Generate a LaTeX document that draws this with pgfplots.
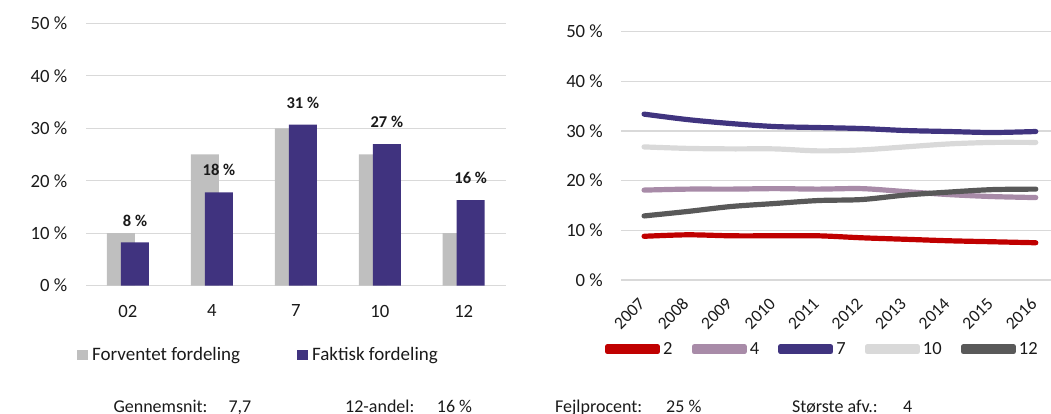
\documentclass[border=0pt]{standalone}
\usepackage{pgfplots}
\pgfplotsset{compat=1.18}
\usepackage{fontspec}
\setmainfont{Carlito}
\definecolor{barGrey}{HTML}{BFBFBF}
\definecolor{barPurple}{HTML}{40337F}
\definecolor{gridGrey}{HTML}{D9D9D9}
\definecolor{cRed}{HTML}{C00000}
\definecolor{cMauve}{HTML}{A88BA8}
\definecolor{cPurple}{HTML}{40347F}
\definecolor{cLight}{HTML}{D9D9D9}
\definecolor{cDark}{HTML}{595959}
\definecolor{txt}{HTML}{1A1A1A}
\newcommand\fsT{\fontsize{18.7pt}{20pt}\selectfont}
\newcommand\fsL{\fontsize{19pt}{21pt}\selectfont}
\newcommand\fsB{\fontsize{18pt}{20pt}\selectfont}
\begin{document}
\begin{tikzpicture}
\path[use as bounding box] (0pt,0pt) rectangle (1051pt,414pt);
% ---------------- left bar chart ----------------
\begin{axis}[
  at={(86pt,128.3pt)}, anchor=south west,
  scale only axis, width=419.7pt, height=262.4pt,
  xmin=-0.5, xmax=4.5, ymin=0, ymax=50,
  ytick={0,10,...,50},
  /pgf/number format/assume math mode=true,
  yticklabel={\pgfmathprintnumber{\tick}~\%},
  xtick={0,...,4}, xticklabels={02,4,7,10,12},
  ymajorgrids, grid style={gridGrey, line width=1.3pt},
  axis line style={draw=none},
  major tick length=0pt,
  tick label style={font=\fsT, text=txt, inner sep=0pt},
  yticklabel style={anchor=east, xshift=-18.5pt},
  xticklabel style={anchor=north, yshift=-19pt},
  ybar, bar width=28pt,
  clip=false,
  legend columns=2,
  legend style={at={(axis description cs:-0.0223,-0.263)}, anchor=west,
    draw=none, fill=none, inner sep=0pt, outer sep=0pt, font=\fsL, text=txt,
    nodes={inner sep=0pt},
    /tikz/every odd column/.append style={column sep=4.5pt},
    /tikz/every even column/.append style={column sep=56.5pt}},
  legend image code/.code={\path[#1, draw=none] (0pt,-5pt) rectangle (11pt,5pt);},
]
\addplot[fill=barGrey, draw=none, bar shift=-7pt] coordinates {(0,10) (1,25) (2,30) (3,25) (4,10)};
\addlegendentry{Forventet fordeling}
\addplot[fill=barPurple, draw=none, bar shift=7pt,
  nodes near coords, point meta=explicit symbolic,
  every node near coord/.append style={font=\bfseries\fontsize{16.5pt}{18pt}\selectfont, text=txt, inner sep=0pt, anchor=south, yshift=16pt}]
  coordinates {(0,8.25) [8~\%] (1,17.8) [18~\%] (2,30.7) [31~\%] (3,27.0) [27~\%] (4,16.3) [16~\%]};
\addlegendentry{Faktisk fordeling}
\end{axis}
% ---------------- right line chart ----------------
\begin{axis}[
  at={(621pt,134pt)}, anchor=south west,
  scale only axis, width=430pt, height=248.3pt,
  xmin=-0.53, xmax=9.35, ymin=0, ymax=50,
  ytick={0,10,...,50},
  /pgf/number format/assume math mode=true,
  yticklabel={\pgfmathprintnumber{\tick}~\%},
  xtick={0,...,9}, xticklabels={2007,2008,2009,2010,2011,2012,2013,2014,2015,2016},
  ymajorgrids, grid style={gridGrey, line width=1.3pt},
  axis line style={draw=none},
  major tick length=0pt,
  tick label style={font=\fsT, text=txt, inner sep=0pt},
  yticklabel style={anchor=east, xshift=-18pt},
  xticklabel style={font=\fontsize{17.5pt}{19pt}\selectfont, xshift=-2pt, yshift=-21pt, rotate=45, anchor=east},
  clip=false,
  legend columns=5,
  legend style={at={(axis description cs:-0.0372,-0.279)}, anchor=west,
    draw=none, fill=none, inner sep=0pt, outer sep=0pt, font=\fontsize{18.5pt}{20pt}\selectfont, text=txt,
    nodes={inner sep=0pt},
    /tikz/every odd column/.append style={column sep=3pt},
    /tikz/every even column/.append style={column sep=19pt}},
  legend image code/.code={\path (0pt,-2.5pt) rectangle (50pt,2.5pt); \draw[#1, line cap=round, line width=4.7pt] (2.4pt,0pt) -- (47.6pt,0pt);},
  every axis plot/.append style={line width=5.2pt, smooth, tension=0.5, line cap=round, line join=round},
]
\addplot[cRed] coordinates {(0,8.8) (1,9.1) (2,8.9) (3,8.9) (4,8.9) (5,8.5) (6,8.2) (7,7.9) (8,7.7) (9,7.5)};
\addlegendentry{2}
\addplot[cMauve] coordinates {(0,18.1) (1,18.3) (2,18.3) (3,18.4) (4,18.3) (5,18.4) (6,17.8) (7,17.2) (8,16.8) (9,16.6)};
\addlegendentry{4}
\addplot[cPurple] coordinates {(0,33.4) (1,32.3) (2,31.5) (3,30.9) (4,30.7) (5,30.5) (6,30.1) (7,29.9) (8,29.7) (9,29.9)};
\addlegendentry{7}
\addplot[cLight] coordinates {(0,26.8) (1,26.5) (2,26.4) (3,26.4) (4,26.0) (5,26.2) (6,26.8) (7,27.4) (8,27.7) (9,27.7)};
\addlegendentry{10}
\addplot[cDark] coordinates {(0,12.9) (1,13.8) (2,14.8) (3,15.4) (4,16.0) (5,16.2) (6,17.1) (7,17.7) (8,18.2) (9,18.3)};
\addlegendentry{12}
\end{axis}
% ---------------- bottom key figures ----------------
\begin{scope}[every node/.style={inner sep=0pt, anchor=base west, font=\fsB, text=txt}]
\node at (113.3pt,1.3pt) {Gennemsnit:};
\node at (228.3pt,1.3pt) {7,7};
\node at (345pt,1.3pt) {12-andel:};
\node at (436.7pt,1.3pt) {16~\%};
\node at (555pt,1.3pt) {Fejlprocent:};
\node at (666pt,1.3pt) {25~\%};
\node at (792pt,1.3pt) {Største afv.:};
\node at (903pt,1.3pt) {4};
\end{scope}
\end{tikzpicture}
\end{document}
